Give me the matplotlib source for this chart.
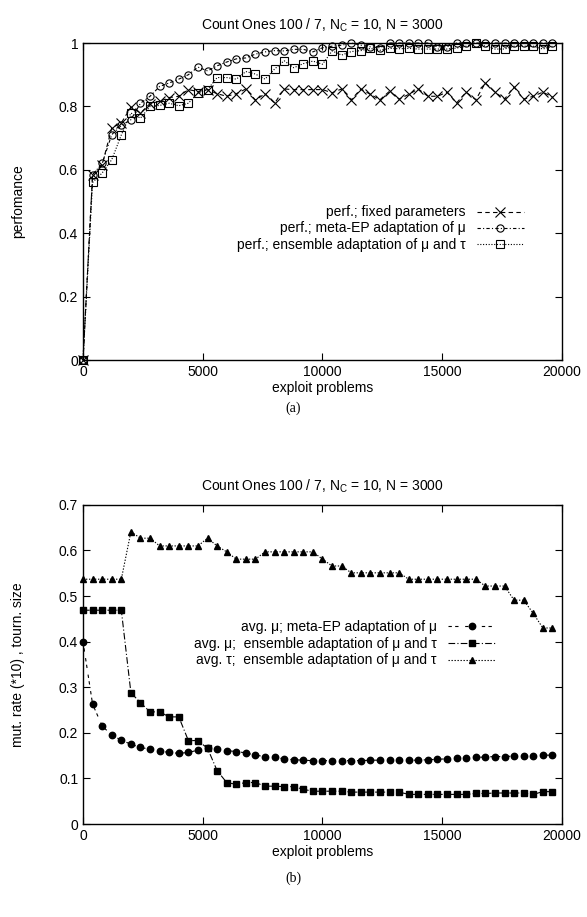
import numpy as np
import matplotlib
matplotlib.use('Agg')
import matplotlib.pyplot as plt

plt.rcParams['font.family'] = ['Liberation Sans', 'DejaVu Sans']
plt.rcParams['font.size'] = 10
plt.rcParams['mathtext.default'] = 'regular'

# exploit problems (x axis, every 400)
x = [0, 400, 800, 1200, 1600, 2000, 2400, 2800, 3200, 3600,
     4000, 4400, 4800, 5200, 5600, 6000, 6400, 6800, 7200, 7600,
     8000, 8400, 8800, 9200, 9600, 10000, 10400, 10800, 11200, 11600,
     12000, 12400, 12800, 13200, 13600, 14000, 14400, 14800, 15200, 15600,
     16000, 16400, 16800, 17200, 17600, 18000, 18400, 18800, 19200, 19600]

# (a) performance
perf_fixed = [0.0, 0.585, 0.616, 0.732, 0.748, 0.798, 0.779, 0.809, 0.816, 0.828,
              0.832, 0.853, 0.847, 0.853, 0.840, 0.832, 0.840, 0.855, 0.820, 0.840,
              0.810, 0.855, 0.853, 0.853, 0.853, 0.853, 0.843, 0.855, 0.821, 0.855,
              0.838, 0.821, 0.848, 0.823, 0.838, 0.855, 0.832, 0.832, 0.845, 0.811,
              0.845, 0.821, 0.874, 0.845, 0.823, 0.861, 0.823, 0.832, 0.845, 0.830]
perf_meta = [0.0, 0.585, 0.620, 0.711, 0.740, 0.758, 0.810, 0.832, 0.863, 0.874,
             0.886, 0.900, 0.924, 0.912, 0.928, 0.940, 0.950, 0.953, 0.965, 0.972,
             0.976, 0.975, 0.980, 0.980, 0.972, 0.985, 0.990, 0.993, 1.000, 0.993,
             0.988, 0.985, 1.000, 1.000, 1.000, 1.000, 1.000, 0.988, 0.988, 1.000,
             1.000, 1.000, 1.000, 1.000, 1.000, 1.000, 1.000, 1.000, 1.000, 1.000]
perf_ens = [0.0, 0.560, 0.590, 0.632, 0.710, 0.779, 0.763, 0.800, 0.803, 0.810,
            0.802, 0.810, 0.842, 0.853, 0.891, 0.891, 0.886, 0.910, 0.902, 0.886,
            0.918, 0.944, 0.922, 0.935, 0.943, 0.933, 0.975, 0.962, 0.973, 0.976,
            0.983, 0.977, 0.983, 0.982, 0.983, 0.981, 0.981, 0.981, 0.981, 0.984,
            0.990, 1.000, 0.990, 0.981, 0.981, 0.990, 0.990, 0.990, 0.981, 0.990]

# (b) mutation rate / tournament size
mu_meta = [0.400, 0.263, 0.215, 0.195, 0.184, 0.175, 0.168, 0.164, 0.160, 0.157,
           0.155, 0.157, 0.162, 0.166, 0.164, 0.161, 0.159, 0.156, 0.151, 0.148,
           0.146, 0.143, 0.141, 0.140, 0.139, 0.139, 0.139, 0.139, 0.139, 0.139,
           0.140, 0.140, 0.140, 0.140, 0.140, 0.140, 0.141, 0.142, 0.143, 0.144,
           0.145, 0.146, 0.147, 0.148, 0.148, 0.149, 0.150, 0.150, 0.151, 0.151]
mu_ens = [0.469, 0.469, 0.469, 0.469, 0.469, 0.288, 0.266, 0.246, 0.246, 0.235,
          0.235, 0.183, 0.183, 0.166, 0.117, 0.091, 0.087, 0.091, 0.091, 0.083,
          0.083, 0.082, 0.082, 0.076, 0.072, 0.072, 0.072, 0.072, 0.070, 0.070,
          0.070, 0.070, 0.070, 0.070, 0.065, 0.065, 0.065, 0.065, 0.065, 0.065,
          0.065, 0.067, 0.067, 0.068, 0.068, 0.068, 0.068, 0.065, 0.071, 0.071]
tau_ens = [0.537, 0.537, 0.537, 0.537, 0.537, 0.641, 0.627, 0.627, 0.610, 0.610,
           0.610, 0.610, 0.610, 0.627, 0.610, 0.597, 0.581, 0.581, 0.581, 0.597,
           0.597, 0.597, 0.597, 0.597, 0.597, 0.581, 0.566, 0.566, 0.551, 0.551,
           0.551, 0.551, 0.551, 0.551, 0.537, 0.537, 0.537, 0.537, 0.537, 0.537,
           0.537, 0.537, 0.522, 0.522, 0.522, 0.491, 0.491, 0.462, 0.430, 0.430]

title = 'Count Ones 100 / 7, N$_C$ = 10, N = 3000'


def style_axes(ax):
  ax.tick_params(direction='in', top=True, right=True, length=5, width=0.8, labelsize=10)
  for s in ax.spines.values():
    s.set_linewidth(1.0)
  ax.set_xlim(0, 20000)
  ax.set_xticks([0, 5000, 10000, 15000, 20000])


def right_align_legend(leg):
  # gnuplot style: text right justified, samples lined up at the right
  for col in leg._legend_handle_box.get_children():
    col.align = 'right'


fig = plt.figure(figsize=(5.87, 9.17), dpi=100)

ax1 = fig.add_axes([0.1414, 0.6074, 0.816, 0.3457])
ax1.plot(x, perf_fixed, color='black', lw=0.8, ls=(0, (4, 3)), marker='x', ms=6.5, mew=0.8,
         clip_on=False, label='perf.; fixed parameters')
ax1.plot(x, perf_meta, color='black', lw=0.8, ls=(0, (3, 2, 1, 2)), marker='o', ms=5.2, mew=0.8,
         mfc='none', clip_on=False, label='perf.; meta-EP adaptation of μ')
ax1.plot(x, perf_ens, color='black', lw=0.8, ls=(0, (1, 1.5)), marker='s', ms=5.2, mew=0.8,
         mfc='none', clip_on=False, label='perf.; ensemble adaptation of μ and τ')
style_axes(ax1)
ax1.set_ylim(0, 1)
ax1.set_yticks([0, 0.2, 0.4, 0.6, 0.8, 1])
ax1.set_yticklabels(['0', '0.2', '0.4', '0.6', '0.8', '1'])
ax1.set_title(title, fontsize=10, pad=10)
ax1.set_xlabel('exploit problems', labelpad=1.5)
ax1.set_ylabel('perfomance', labelpad=24)
leg1 = ax1.legend(loc='center right', bbox_to_anchor=(0.935, 0.415), frameon=False,
                  markerfirst=False, handlelength=3.4, handletextpad=0.8,
                  labelspacing=0.15, borderpad=0, fontsize=10)
right_align_legend(leg1)
fig.text(0.5, 1 - 408 / 917, '(a)', ha='center', va='center', fontsize=10, family='Liberation Serif')

ax2 = fig.add_axes([0.1414, 0.1014, 0.816, 0.348])
ax2.plot(x, mu_meta, color='black', lw=0.8, ls=(0, (3, 3, 3, 6)), marker='o', ms=4.6,
         clip_on=False, label='avg. μ; meta-EP adaptation of μ')
ax2.plot(x, mu_ens, color='black', lw=0.8, ls=(0, (6, 2, 1, 2)), marker='s', ms=4.8,
         clip_on=False, label='avg. μ;  ensemble adaptation of μ and τ')
ax2.plot(x, tau_ens, color='black', lw=0.8, ls=(0, (1.2, 1.5)), marker='^', ms=4.6,
         clip_on=False, label='avg. τ;  ensemble adaptation of μ and τ')
style_axes(ax2)
ax2.set_ylim(0, 0.7)
ax2.set_yticks([0, 0.1, 0.2, 0.3, 0.4, 0.5, 0.6, 0.7])
ax2.set_yticklabels(['0', '0.1', '0.2', '0.3', '0.4', '0.5', '0.6', '0.7'])
ax2.set_title(title, fontsize=10, pad=10)
ax2.set_xlabel('exploit problems', labelpad=1.5)
ax2.set_ylabel('mut. rate (*10) , tourn. size', labelpad=24)
leg2 = ax2.legend(loc='center right', bbox_to_anchor=(0.875, 0.565), frameon=False,
                  markerfirst=False, handlelength=3.4, handletextpad=0.8,
                  labelspacing=0.2, borderpad=0, fontsize=10)
right_align_legend(leg2)
fig.text(0.5, 1 - 878 / 917, '(b)', ha='center', va='center', fontsize=10, family='Liberation Serif')

fig.savefig('out.png', dpi=100)
